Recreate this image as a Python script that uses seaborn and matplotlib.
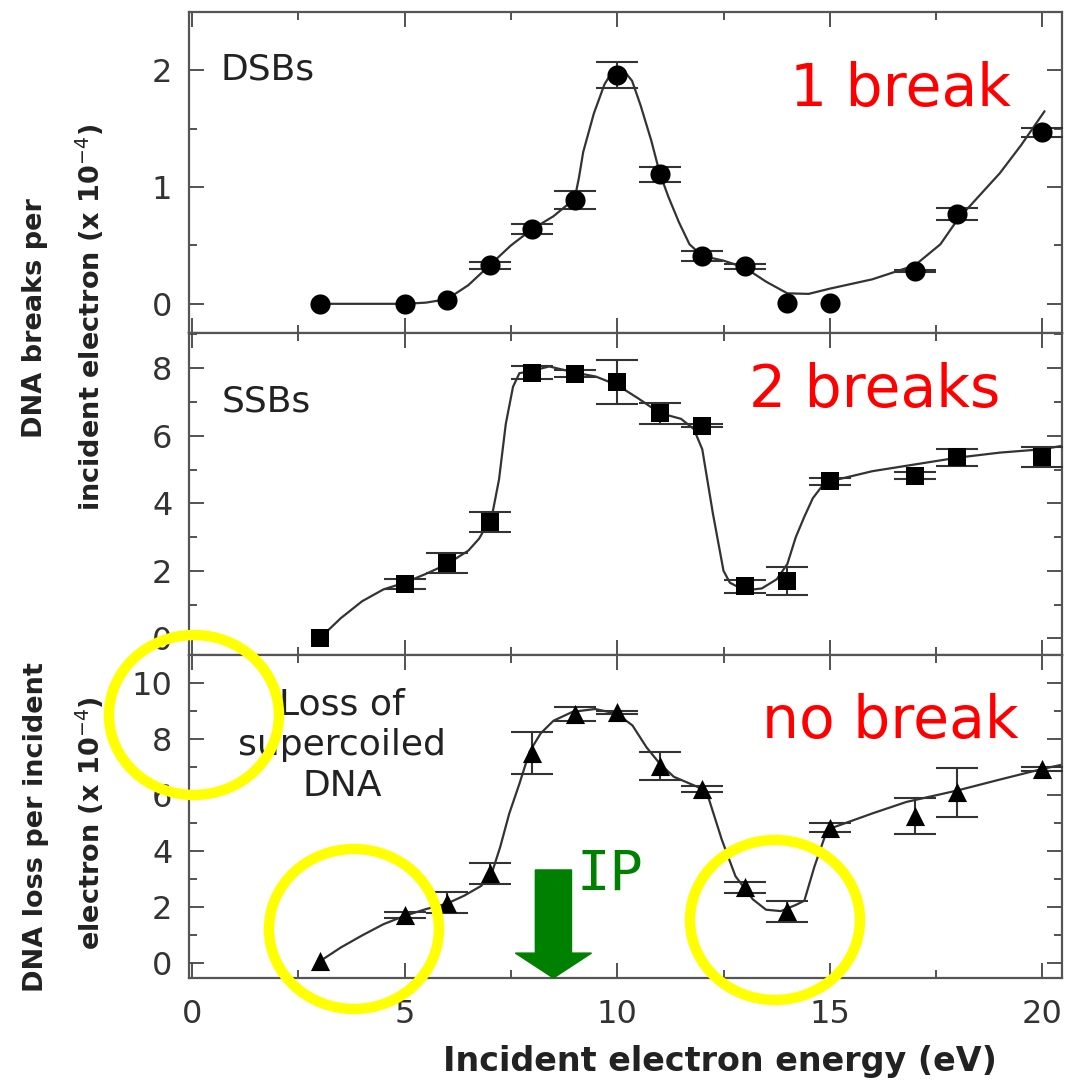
import seaborn as sns
import matplotlib.pyplot as plt
from matplotlib.ticker import MultipleLocator
from matplotlib.patches import Ellipse, FancyArrow


# DATA - energy in eV, yields in units of 1e-4
energy = [3, 5, 6, 7, 8, 9, 10, 11, 12, 13, 14, 15, 17, 18, 20]

dsb = [0, 0, 0.03, 0.33, 0.64, 0.89, 1.96, 1.11, 0.41, 0.32, 0.01, 0.01, 0.28, 0.77, 1.47]
dsb_err = [0, 0, 0, 0.03, 0.04, 0.08, 0.115, 0.065, 0.04, 0.02, 0, 0, 0.01, 0.05, 0.04]

ssb = [0.0, 1.62, 2.24, 3.44, 7.87, 7.84, 7.58, 6.67, 6.30, 1.54, 1.70, 4.65, 4.82, 5.36, 5.36]
ssb_err = [0, 0.15, 0.3, 0.3, 0.2, 0.1, 0.65, 0.31, 0.05, 0.2, 0.4, 0.1, 0.1, 0.25, 0.3]

loss = [0.05, 1.72, 2.15, 3.2, 7.5, 8.9, 8.95, 7.05, 6.22, 2.7, 1.84, 4.83, 5.25, 6.1, 6.93]
loss_err = [0, 0.1, 0.38, 0.37, 0.75, 0.25, 0.05, 0.5, 0.1, 0.2, 0.38, 0.15, 0.65, 0.88, 0.07]

# guide curves drawn through the points (also)
dsb_curve_x = [3, 4, 5, 5.5, 6, 6.5, 7, 7.5, 8, 8.5, 9, 9.1, 9.2, 9.45, 9.7, 9.85, 10, 10.15,
               10.35, 10.55, 10.8, 11, 11.2, 11.45, 11.7, 12, 12.5, 13, 13.5, 14, 14.5,
               15, 16, 17, 17.6, 18, 18.5, 19, 19.5, 20.05]
dsb_curve_y = [0, 0, 0, 0.01, 0.04, 0.16, 0.33, 0.5, 0.64, 0.75, 0.9, 1.08, 1.3, 1.63, 1.88,
               1.97, 2.01, 2.0, 1.91, 1.7, 1.4, 1.12, 0.92, 0.7, 0.51, 0.41, 0.37, 0.31,
               0.19, 0.09, 0.085, 0.13, 0.21, 0.33, 0.51, 0.72, 0.92, 1.12, 1.36, 1.65]

ssb_curve_x = [3, 3.5, 4, 4.5, 5, 5.5, 6, 6.5, 6.75, 7.05, 7.22, 7.38, 7.55, 7.7, 8, 8.4,
               9, 9.5, 10, 10.5, 11, 11.5, 11.8, 12, 12.25, 12.5, 12.65, 13, 13.4, 13.75,
               14, 14.2, 14.4, 14.6, 14.8, 15, 16, 17, 18, 19, 20, 20.46]
ssb_curve_y = [0.0, 0.6, 1.1, 1.45, 1.65, 1.91, 2.2, 2.6, 2.95, 3.6, 4.7, 6.35, 7.45, 7.85,
               7.92, 8.05, 7.87, 7.75, 7.5, 7.1, 6.67, 6.5, 6.2, 5.6, 3.7, 2.0, 1.65, 1.42,
               1.48, 1.75, 2.2, 3.0, 3.6, 4.15, 4.48, 4.65, 4.95, 5.15, 5.35, 5.5, 5.6, 5.7]

loss_curve_x = [3, 3.5, 4, 4.5, 5, 5.5, 6, 6.4, 6.8, 7.05, 7.25, 7.46, 7.7, 7.94, 8.2, 8.5,
                8.95, 9.48, 10, 10.36, 10.69, 11, 11.33, 11.9, 12.14, 12.46, 12.78, 13.19,
                13.5, 13.85, 14.2, 14.4, 14.64, 14.88, 15.1, 16, 16.8, 18, 19, 20, 20.46]
loss_curve_y = [0.05, 0.55, 0.98, 1.38, 1.68, 1.92, 2.12, 2.4, 2.75, 3.2, 4.15, 5.33, 6.4,
                7.55, 8.2, 8.65, 8.97, 9.07, 8.9, 8.48, 7.7, 7.12, 6.65, 6.28, 5.93, 4.4,
                3.1, 2.27, 1.9, 1.85, 2.07, 2.22, 3.45, 4.5, 4.85, 5.34, 5.75, 6.16, 6.55,
                6.93, 7.08]

ip_energy = 8.5  # green IP arrow

# FIGURE
W, H = 1066, 1084


def fx(px):
    return px / W


def fy(py):
    return 1 - py / H


sns.set_theme(style='ticks')
plt.rcParams['font.family'] = ['DejaVu Sans']
plt.rcParams['mathtext.fontset'] = 'dejavusans'

fig = plt.figure(figsize=(W / 100, H / 100), dpi=100)
fig.patch.set_facecolor('white')

LEFT, RIGHT = 189, 1062
rows = [(12, 333), (333, 655), (655, 978)]
axes = [fig.add_axes([fx(LEFT), fy(bot), (RIGHT - LEFT) / W, (bot - top) / H]) for top, bot in rows]

panels = [
    (dsb_curve_x, dsb_curve_y, dsb, dsb_err, 'o', 210, (-0.25, 2.5), 1, 0.5),
    (ssb_curve_x, ssb_curve_y, ssb, ssb_err, 's', 150, (-0.49, 9.04), 2, 1),
    (loss_curve_x, loss_curve_y, loss, loss_err, '^', 190, (-0.54, 11.0), 2, 1),
]

grey = '#333333'
for ax, (cx, cy, vals, err, mk, size, ylim, major, minor) in zip(axes, panels):
    sns.lineplot(x=cx, y=cy, ax=ax, color=grey, lw=1.6, estimator=None, sort=False)

    # error bars only where there is one
    ex = [e for e, s in zip(energy, err) if s > 0]
    ey = [v for v, s in zip(vals, err) if s > 0]
    es = [s for s in err if s > 0]
    ax.errorbar(ex, ey, yerr=es, fmt='none', ecolor=grey, elinewidth=1.5,
                capsize=15, capthick=1.5, zorder=3)

    sns.scatterplot(x=energy, y=vals, ax=ax, marker=mk, s=size, color='black',
                    edgecolor='black', linewidth=0, zorder=4)

    ax.set_xlim(-0.07, 20.46)
    ax.set_ylim(*ylim)
    ax.xaxis.set_major_locator(MultipleLocator(5))
    ax.xaxis.set_minor_locator(MultipleLocator(2.5))
    ax.yaxis.set_major_locator(MultipleLocator(major))
    ax.yaxis.set_minor_locator(MultipleLocator(minor))
    ax.tick_params(which='both', direction='in', top=True, right=True,
                   color='#444444', width=1.3, labelsize=23, labelcolor='#333333')
    ax.tick_params(which='major', length=11)
    ax.tick_params(which='minor', length=6)
    ax.tick_params(axis='y', pad=12)
    ax.tick_params(axis='x', pad=15)
    for sp in ax.spines.values():
        sp.set_color('#555555')
        sp.set_linewidth(1.6)
    ax.set_xlabel('')
    ax.set_ylabel('')
    ax.set_facecolor('white')

for ax in axes[:2]:
    ax.tick_params(axis='x', labelbottom=False)

# panel titles
fig.text(fx(220), fy(80), 'DSBs', fontsize=26, color='#222222', va='baseline')
fig.text(fx(222), fy(412), 'SSBs', fontsize=26, color='#222222', va='baseline')
fig.text(fx(342), fy(796), 'Loss of\nsupercoiled\nDNA', fontsize=26, color='#222222',
         va='baseline', ha='center', multialignment='center', linespacing=1.25)

# axis labels
fig.text(fx(720), fy(1062), 'Incident electron energy (eV)', fontsize=24,
         fontweight='bold', color='#222222', ha='center', va='center')
fig.text(fx(35), fy(318), 'DNA breaks per', rotation=90, fontsize=19.5,
         fontweight='bold', color='#222222', ha='center', va='center')
fig.text(fx(90), fy(317), r'incident electron (x 10$^{-4}$)', rotation=90, fontsize=19.5,
         fontweight='bold', color='#222222', ha='center', va='center')
fig.text(fx(36), fy(827), 'DNA loss per incident', rotation=90, fontsize=19.5,
         fontweight='bold', color='#222222', ha='center', va='center')
fig.text(fx(90), fy(823), r'electron (x 10$^{-4}$)', rotation=90, fontsize=19.5,
         fontweight='bold', color='#222222', ha='center', va='center')

# red notes
fig.text(fx(790), fy(106), '1 break', fontsize=42, color='red', va='baseline')
fig.text(fx(749), fy(407), '2 breaks', fontsize=42, color='red', va='baseline')
fig.text(fx(762), fy(738), 'no break', fontsize=42, color='red', va='baseline')

# IP arrow
ax3 = axes[2]
arrow = FancyArrow(ip_energy, 3.32, 0, -3.86, width=0.85, head_width=1.79, head_length=0.89,
                   length_includes_head=True, color='#008000', clip_on=False, zorder=6)
ax3.add_patch(arrow)
fig.text(fx(576), fy(890), 'IP', fontsize=40, color='#008000', va='baseline',
         family=['DejaVu Sans Mono'])

# yellow circles
for cx, cy in [(194, 715), (354, 929), (775, 920)]:
    fig.add_artist(Ellipse((fx(cx), fy(cy)), width=170 / W, height=160 / H,
                           transform=fig.transFigure, fill=False, ec='#ffff00',
                           lw=7.5, zorder=10))

fig.savefig('out.png', dpi=100)
